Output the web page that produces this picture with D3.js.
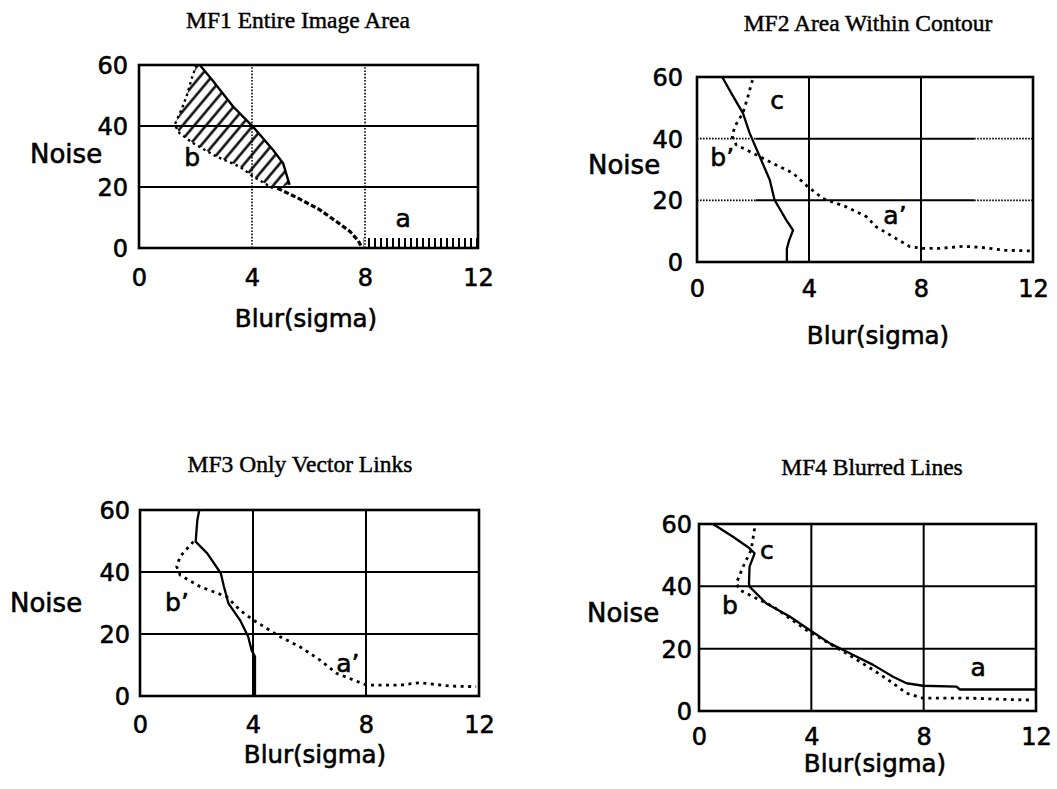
<!DOCTYPE html>
<html><head><meta charset="utf-8">
<script src="https://cdn.jsdelivr.net/npm/d3@7"></script>
<style>body{margin:0;background:#fff}</style></head>
<body><svg id="c" width="1057" height="789"></svg>
<script>
// ---- data ----
const xTicks=[0,4,8,12];
const yTicks=[0,20,40,60];
const titles=["MF1 Entire Image Area","MF2 Area Within Contour","MF3 Only Vector Links","MF4 Blurred Lines"];
const xLabel="Blur(sigma)", yLabel="Noise";
// MF1
const mf1Upper=[[2.15,60],[2.6,55],[3.33,46.4],[4.03,39.8],[4.74,32.2],[5.1,27.8],[5.33,20.7]];
const mf1B=[[2.03,60],[1.85,55.1],[1.68,49.6],[1.5,45.3],[1.26,40.4],[1.44,37.6],[1.91,34.4],[2.74,30],[3.56,26.7],[4.03,23.5],[4.74,19.6]];
const mf1Tail=[[4.9,19.6],[5.6,16.5],[6.39,12.6],[7.0,8.6],[7.46,5.5],[7.75,2.5],[7.9,0]];
const mf1A=[[7.95,3.3],[12,3.3]];
// MF2
const mf2Solid=[[0.9,60],[1.29,53.7],[1.64,48.3],[1.88,41.8],[2.24,34.2],[2.6,26.6],[2.77,20.1],[3.19,13.6],[3.43,10.3],[3.29,7],[3.21,4.3],[3.21,0]];
const mf2Dotted=[[1.98,59],[1.82,53.7],[1.64,48.3],[1.35,44],[1.26,40.7],[1.4,38],[2.0,35.3],[2.71,32],[3.43,28.8],[3.96,24.4],[4.5,20.6],[5.33,17.9],[6.05,14.7],[6.4,11.4],[7.0,8.2],[7.6,5],[8.07,4.4],[8.67,4.4],[9.5,5.1],[10.2,4.7],[11.0,3.8],[11.9,3.6]];
// MF3
const mf3Solid=[[2.1,60],[2.03,56.8],[1.97,49.8],[2.38,46],[2.86,39.6],[2.97,35.3],[3.13,29.9],[3.54,24.5],[3.83,19.1],[3.95,14.8],[4.07,12.7],[4.07,0]];
const mf3Dotted=[[1.89,49.8],[1.42,45],[1.3,41.7],[1.42,39],[2.12,35.3],[3.07,32],[3.54,27.7],[4.01,24.5],[4.96,19.1],[5.66,15.9],[6.37,11.6],[6.96,7.3],[7.55,5.2],[8.02,3.5],[9.2,3.5],[9.91,4.3],[10.97,3.2],[11.9,3]];
// MF4
const mf4Solid=[[0.5,60],[1.21,55.9],[1.8,52.2],[1.98,50.6],[1.8,46.3],[1.78,41],[1.8,39.9],[2.4,34.5],[3.23,30.3],[3.94,26],[4.66,21.7],[5.37,18.5],[6.2,14.8],[6.91,11],[7.39,8.9],[7.98,8.1],[9.17,7.8],[9.29,6.9],[12,6.9]];
const mf4Dotted=[[1.98,58.6],[1.86,51.7],[1.57,46.3],[1.33,41],[1.45,38.8],[1.92,36.7],[2.64,33.5],[3.82,26],[4.54,22.2],[5.25,18.5],[6.2,13.2],[6.91,8.9],[7.39,5.7],[7.98,4.1],[9.76,4.1],[10.95,3.7],[11.9,3.5]];
// curve labels [text, x, y]
const mf1Labels=[["b",1.88,29.8],["a",9.35,9.8]];
const mf2Labels=[["c",2.86,52.5],["b’",0.9,34],["a’",7.07,15.2]];
const mf3Labels=[["b’",1.31,30.3],["a’",7.36,10.6]];
const mf4Labels=[["c",2.42,51.6],["b",1.1,34],["a",9.94,14.1]];

// ---- layout ----
const panels=[
 {L:139,R:478,T:65,B:248,titleX:298,titleY:28,yTickGap:11,xTickY:286,blurX:306,blurY:327,noiseX:30,noiseY:163,
  vGrid:"dotted",hGrid:"solid",labels:mf1Labels},
 {L:697,R:1033,T:77,B:262,titleX:868,titleY:31,yTickGap:14,xTickY:297,blurX:878,blurY:344,noiseX:588,noiseY:174,
  vGrid:"solid",hGrid:"mixed",labels:mf2Labels},
 {L:140,R:479,T:510,B:696,titleX:300,titleY:472,yTickGap:10,xTickY:733,blurX:315,blurY:763,noiseX:10,noiseY:612,
  vGrid:"solid",hGrid:"solid",labels:mf3Labels},
 {L:699,R:1036,T:524,B:711,titleX:872,titleY:475,yTickGap:7,xTickY:745,blurX:875,blurY:772,noiseX:587,noiseY:622,
  vGrid:"solid",hGrid:"solid",labels:mf4Labels}
];
const SANS="'DejaVu Sans', sans-serif", SERIF="'Liberation Serif','Times New Roman',serif";
const svg=d3.select("#c");
const defs=svg.append("defs");
defs.append("pattern").attr("id","hatch").attr("patternUnits","userSpaceOnUse")
 .attr("width",9).attr("height",9).attr("patternTransform","rotate(40)")
 .append("line").attr("x1",4.5).attr("y1",0).attr("x2",4.5).attr("y2",9).attr("stroke","#000").attr("stroke-width",2.4);
defs.append("pattern").attr("id","vhatch").attr("patternUnits","userSpaceOnUse")
 .attr("width",6).attr("height",40)
 .append("line").attr("x1",3).attr("y1",0).attr("x2",3).attr("y2",40).attr("stroke","#000").attr("stroke-width",2);

const bold=sel=>sel.attr("stroke","#000").attr("stroke-width",0.6).attr("fill","#000");

panels.forEach((p,i)=>{
 const x=d3.scaleLinear().domain([0,12]).range([p.L,p.R]);
 const y=d3.scaleLinear().domain([0,60]).range([p.B,p.T]);
 const g=svg.append("g");
 const line=d3.line().x(d=>x(d[0])).y(d=>y(d[1])).curve(d3.curveLinear);
 // gridlines
 [4,8].forEach(v=>{
   const l=g.append("line").attr("x1",x(v)).attr("x2",x(v)).attr("y1",y(0)).attr("y2",y(60)).attr("stroke","#000");
   if(p.vGrid==="dotted") l.attr("stroke-width",1.6).attr("stroke-dasharray","1.6,1.6");
   else l.attr("stroke-width",2);
 });
 [20,40].forEach(v=>{
   if(p.hGrid==="mixed"){
     [[0,2.1,true],[2.1,9.9,false],[9.9,12,true]].forEach(s=>{
       const l=g.append("line").attr("x1",x(s[0])).attr("x2",x(s[1])).attr("y1",y(v)).attr("y2",y(v)).attr("stroke","#000");
       if(s[2]) l.attr("stroke-width",1.8).attr("stroke-dasharray","1.6,1.4"); else l.attr("stroke-width",2);
     });
   } else {
     g.append("line").attr("x1",x(0)).attr("x2",x(12)).attr("y1",y(v)).attr("y2",y(v)).attr("stroke","#000").attr("stroke-width",2);
   }
 });
 // curves
 const solid=(data,w)=>g.append("path").attr("d",line(data)).attr("fill","none").attr("stroke","#000").attr("stroke-width",w||2.3).attr("stroke-linejoin","round");
 const dotted=(data)=>g.append("path").attr("d",line(data)).attr("fill","none").attr("stroke","#000").attr("stroke-width",2.8).attr("stroke-dasharray","3,4.5").attr("stroke-linecap","butt");
 if(i===0){
   const region=mf1Upper.concat(mf1B.slice().reverse());
   g.append("path").attr("d",line(region)+"Z").attr("fill","url(#hatch)").attr("stroke","none");
   solid(mf1Upper,2.4);
   g.append("path").attr("d",line(mf1B)).attr("fill","none").attr("stroke","#000").attr("stroke-width",2.4).attr("stroke-dasharray","2.5,3.5");
   g.append("path").attr("d",line(mf1Tail)).attr("fill","none").attr("stroke","#000").attr("stroke-width",3.2).attr("stroke-dasharray","5,2.5");
   const aArea=d3.area().x(d=>x(d[0])).y0(y(0)).y1(d=>y(d[1]));
   g.append("path").attr("d",aArea(mf1A)).attr("fill","url(#vhatch)");
 } else if(i===1){ solid(mf2Solid); dotted(mf2Dotted); }
 else if(i===2){ solid(mf3Solid); dotted(mf3Dotted); }
 else { solid(mf4Solid); dotted(mf4Dotted); }
 // frame
 g.append("rect").attr("x",p.L).attr("y",p.T).attr("width",p.R-p.L).attr("height",p.B-p.T)
  .attr("fill","none").attr("stroke","#000").attr("stroke-width",2.6);
 // axes
 const xa=g.append("g").attr("transform",`translate(0,${p.xTickY})`)
   .call(d3.axisBottom(x).tickValues(xTicks).tickSize(0).tickPadding(0).tickFormat(d3.format("d")));
 xa.select(".domain").remove();
 xa.selectAll("text").attr("dy",null).attr("y",0).attr("font-size",24).attr("font-family",SANS).call(bold);
 xa.attr("font-size",null).attr("font-family",null);
 const ya=g.append("g").attr("transform",`translate(${p.L-p.yTickGap},0)`)
   .call(d3.axisLeft(y).tickValues(yTicks).tickSize(0).tickPadding(0).tickFormat(d3.format("d")));
 ya.select(".domain").remove();
 ya.selectAll("text").attr("dy","0.36em").attr("x",0).attr("font-size",24).attr("font-family",SANS).call(bold);
 ya.attr("font-size",null).attr("font-family",null);
 // axis titles
 g.append("text").attr("x",p.noiseX).attr("y",p.noiseY).attr("font-family",SANS).attr("font-size",26).text(yLabel).call(bold);
 g.append("text").attr("x",p.blurX).attr("y",p.blurY).attr("text-anchor","middle").attr("font-family",SANS)
  .attr("font-size",24.5).text(xLabel).call(bold);
 // title
 g.append("text").attr("x",p.titleX).attr("y",p.titleY).attr("text-anchor","middle").attr("font-family",SERIF)
  .attr("font-size",23.5).attr("stroke","#000").attr("stroke-width",0.45).text(titles[i]);
 // curve labels
 p.labels.forEach(l=>{
   g.append("text").attr("x",x(l[1])).attr("y",y(l[2])).attr("text-anchor","middle").attr("dy","0.35em")
    .attr("font-family",SANS).attr("font-size",25).text(l[0]).call(bold);
 });
});
</script></body></html>
